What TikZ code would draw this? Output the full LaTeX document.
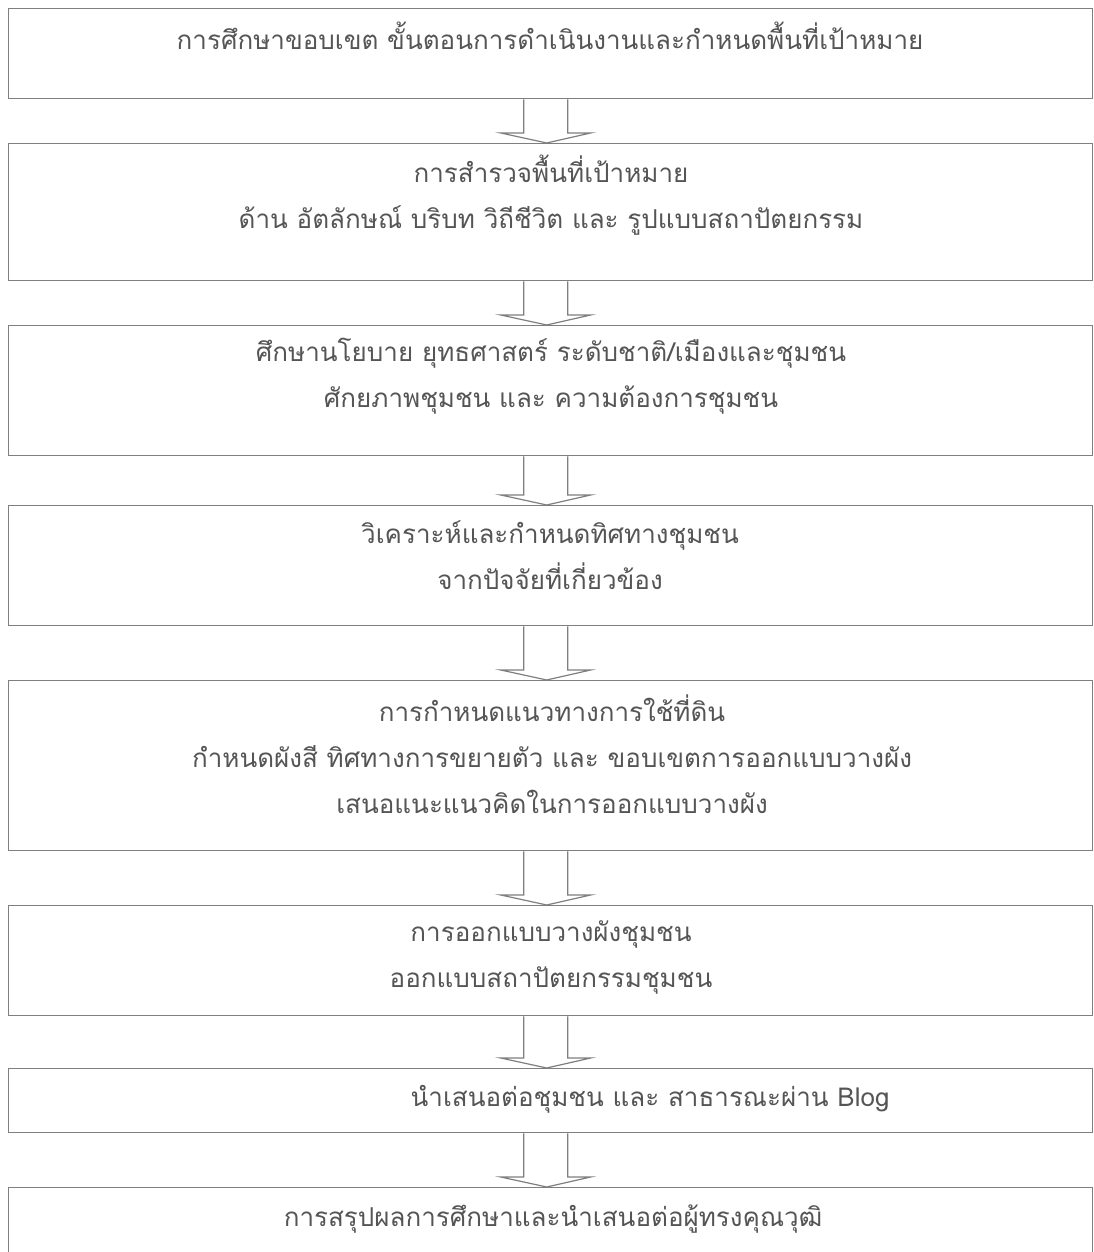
\documentclass[tikz,border=0pt]{standalone}
\usepackage{fontspec}
\newfontfamily\thaifont[Script=Thai]{Loma}
\usetikzlibrary{calc}
\definecolor{linegray}{HTML}{7F7F7F}
\definecolor{textgray}{HTML}{555555}
\tikzset{
  stepbox/.style={draw=linegray, line width=1.4pt, rectangle, inner sep=0pt, anchor=north west},
  steptext/.style={text=textgray, align=center, inner sep=0pt, font=\thaifont\fontsize{26}{46}\selectfont},
  blockarr/.style={draw=linegray, line width=1.2pt, line join=miter}
}
\newcommand\blockarrow[2]{%
  \draw[blockarr] ($(#1.south)+(-27,0)$) -- ($(#2.north)+(-27,10)$) -- ($(#2.north)+(-50,10)$)
    -- ($(#2.north)+(-4,0)$) -- ($(#2.north)+(40,10)$) -- ($(#2.north)+(17,10)$) -- ($(#1.south)+(17,0)$);}
\begin{document}
\begin{tikzpicture}[x=1pt,y=1pt]
\useasboundingbox (0,0) rectangle (1093,1252);
\clip (0,0) rectangle (1093,1252);
\fill[white] (0,0) rectangle (1093,1252);
% boxes (y given as 1252 - pixel y)
\node[stepbox, minimum width=1084pt, minimum height=90pt]  (b1) at (8,1244) {};
\node[stepbox, minimum width=1084pt, minimum height=137pt] (b2) at (8,1109) {};
\node[stepbox, minimum width=1084pt, minimum height=130pt] (b3) at (8,927) {};
\node[stepbox, minimum width=1084pt, minimum height=120pt] (b4) at (8,747) {};
\node[stepbox, minimum width=1084pt, minimum height=170pt] (b5) at (8,572) {};
\node[stepbox, minimum width=1084pt, minimum height=110pt] (b6) at (8,347) {};
\node[stepbox, minimum width=1084pt, minimum height=64pt]  (b7) at (8,184) {};
\node[stepbox, minimum width=1084pt, minimum height=90pt]  (b8) at (8,65) {};
% texts
\node[steptext] (t1) at (550,1216) {การศึกษาขอบเขต ขั้นตอนการดำเนินงานและกำหนดพื้นที่เป้าหมาย};
\node[steptext] (t2) at (551,1056.5) {การสำรวจพื้นที่เป้าหมาย\\ด้าน อัตลักษณ์ บริบท วิถีชีวิต และ รูปแบบสถาปัตยกรรม};
\node[steptext] (t3) at (551,875.5) {ศึกษานโยบาย ยุทธศาสตร์ ระดับชาติ/เมืองและชุมชน\\ศักยภาพชุมชน และ ความต้องการชุมชน};
\node[steptext] (t4) at (550,696.5) {วิเคราะห์และกำหนดทิศทางชุมชน\\จากปัจจัยที่เกี่ยวข้อง};
\node[steptext] (t5) at (552,498) {การกำหนดแนวทางการใช้ที่ดิน\\กำหนดผังสี ทิศทางการขยายตัว และ ขอบเขตการออกแบบวางผัง\\เสนอแนะแนวคิดในการออกแบบวางผัง};
\node[steptext] (t6) at (551,294.5) {การออกแบบวางผังชุมชน\\ออกแบบสถาปัตยกรรมชุมชน};
\node[steptext] (t7) at (650,153) {นำเสนอต่อชุมชน และ สาธารณะผ่าน Blog};
\node[steptext] (t8) at (553,33) {การสรุปผลการศึกษาและนำเสนอต่อผู้ทรงคุณวุฒิ};
% arrows
\blockarrow{b1}{b2}
\blockarrow{b2}{b3}
\blockarrow{b3}{b4}
\blockarrow{b4}{b5}
\blockarrow{b5}{b6}
\blockarrow{b6}{b7}
\blockarrow{b7}{b8}
\end{tikzpicture}
\end{document}
